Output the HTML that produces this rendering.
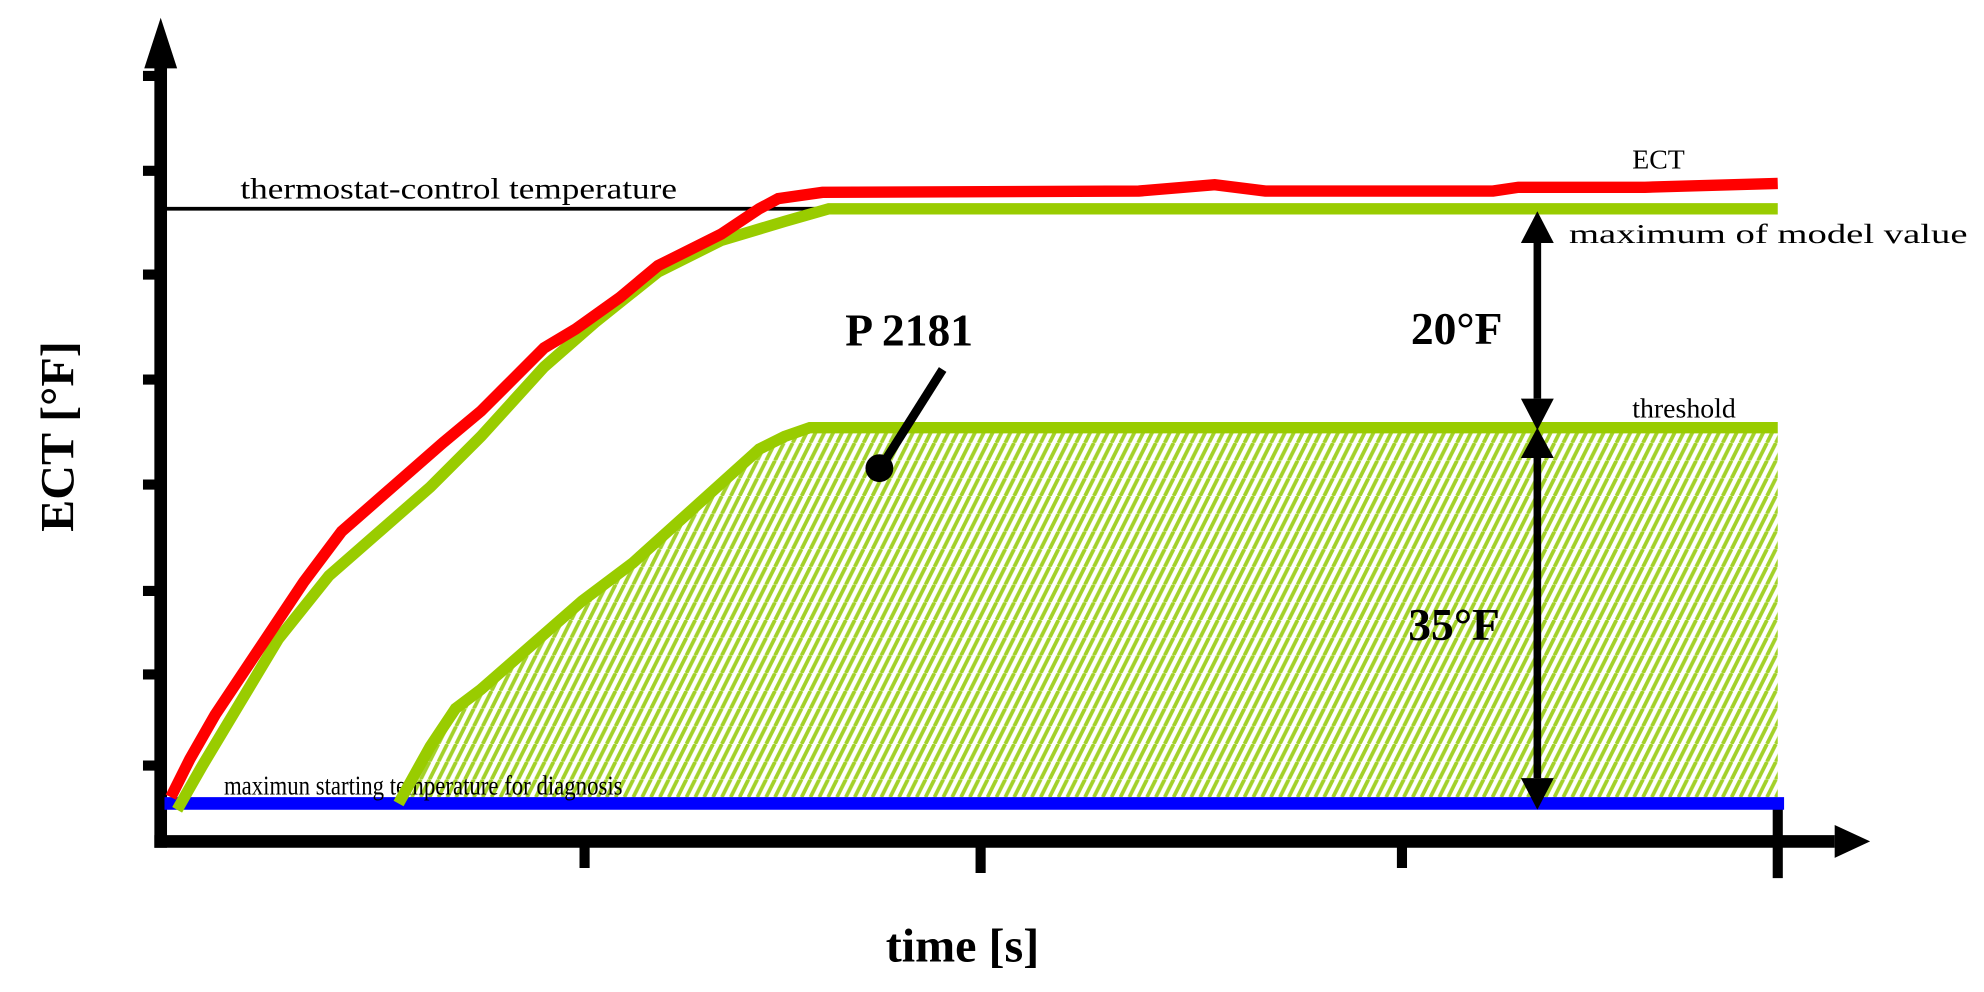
<!DOCTYPE html>
<html><head><meta charset="utf-8"><style>
html,body{margin:0;padding:0;background:#fff;}
svg{display:block;}
text{font-family:"Liberation Serif",serif;fill:#000;}
</style></head><body>
<svg width="1984" height="992" viewBox="0 0 1568 784" xmlns="http://www.w3.org/2000/svg">
<defs>
<pattern id="h" patternUnits="userSpaceOnUse" width="7" height="14">
<rect width="7" height="14" fill="#fff"/>
<path d="M-3.5,14 L3.5,0 M3.5,14 L10.5,0" stroke="#a3d12a" stroke-width="3"/>
</pattern>
</defs>
<path d="M315,635 L340,590 L360,560 L380,545 L420,510 L460,475 L500,445 L550,400 L600,355 L620,345 L640,338 L1405,338 L1405,635 Z" fill="url(#h)"/>
<line x1="127" y1="40" x2="127" y2="670" stroke="#000" stroke-width="10"/>
<polygon points="127,14 114,54 140,54" fill="#000"/>
<line x1="122" y1="665" x2="1450" y2="665" stroke="#000" stroke-width="10"/>
<polygon points="1478,665 1450,652 1450,678" fill="#000"/>
<g stroke="#000" stroke-width="8">
<line x1="113" y1="60" x2="127" y2="60"/>
<line x1="113" y1="135" x2="127" y2="135"/>
<line x1="113" y1="217" x2="127" y2="217"/>
<line x1="113" y1="300" x2="127" y2="300"/>
<line x1="113" y1="383" x2="127" y2="383"/>
<line x1="113" y1="467" x2="127" y2="467"/>
<line x1="113" y1="533" x2="127" y2="533"/>
<line x1="113" y1="605" x2="127" y2="605"/>
<line x1="462" y1="665" x2="462" y2="686"/>
<line x1="775" y1="665" x2="775" y2="690"/>
<line x1="1108" y1="665" x2="1108" y2="686"/>
<line x1="1405" y1="635" x2="1405" y2="694"/>
</g>
<line x1="130" y1="165" x2="655" y2="165" stroke="#000" stroke-width="3"/>
<text x="190" y="157" font-size="23" textLength="345" lengthAdjust="spacingAndGlyphs">thermostat-control temperature</text>
<line x1="130" y1="635" x2="1410" y2="635" stroke="#0000ff" stroke-width="10"/>
<text x="177" y="628" font-size="22" textLength="315" lengthAdjust="spacingAndGlyphs">maximun starting temperature for diagnosis</text>
<polyline points="315,635 340,590 360,560 380,545 420,510 460,475 500,445 550,400 600,355 620,345 640,338 1405,338" fill="none" stroke="#99cc00" stroke-width="9"/>
<polyline points="140,640 160,605 190,555 220,505 260,455 300,420 340,385 380,345 430,290 470,255 520,215 570,190 620,175 655,165 1405,165" fill="none" stroke="#99cc00" stroke-width="9"/>
<polyline points="135,630 150,600 170,565 200,520 240,460 270,420 310,385 350,350 380,325 405,300 430,275 455,260 490,235 520,210 570,185 600,165 615,157 650,152 900,151 960,146 1000,151 1180,151 1200,148 1300,148 1405,145" fill="none" stroke="#ff0000" stroke-width="9"/>
<line x1="1215" y1="190" x2="1215" y2="315" stroke="#000" stroke-width="6"/>
<polygon points="1215,167 1202,192 1228,192" fill="#000"/>
<polygon points="1215,340 1202,315 1228,315" fill="#000"/>
<line x1="1215" y1="362" x2="1215" y2="615" stroke="#000" stroke-width="6"/>
<polygon points="1215,338 1202,362 1228,362" fill="#000"/>
<polygon points="1215,640 1202,615 1228,615" fill="#000"/>
<text x="1115" y="272" font-size="36" font-weight="bold">20°F</text>
<text x="1113" y="506" font-size="36" font-weight="bold">35°F</text>
<text x="668" y="273" font-size="36" font-weight="bold">P 2181</text>
<line x1="745" y1="292" x2="697" y2="368" stroke="#000" stroke-width="7"/>
<circle cx="695" cy="370" r="11" fill="#000"/>
<text x="1290" y="133" font-size="22">ECT</text>
<text x="1240" y="192" font-size="22" textLength="315" lengthAdjust="spacingAndGlyphs">maximum of model value</text>
<text x="1290" y="330" font-size="22">threshold</text>
<text x="700" y="760" font-size="38" font-weight="bold">time [s]</text>
<text transform="translate(58,345) rotate(-90)" font-size="38" font-weight="bold" text-anchor="middle">ECT [°F]</text>
</svg>
</body></html>
